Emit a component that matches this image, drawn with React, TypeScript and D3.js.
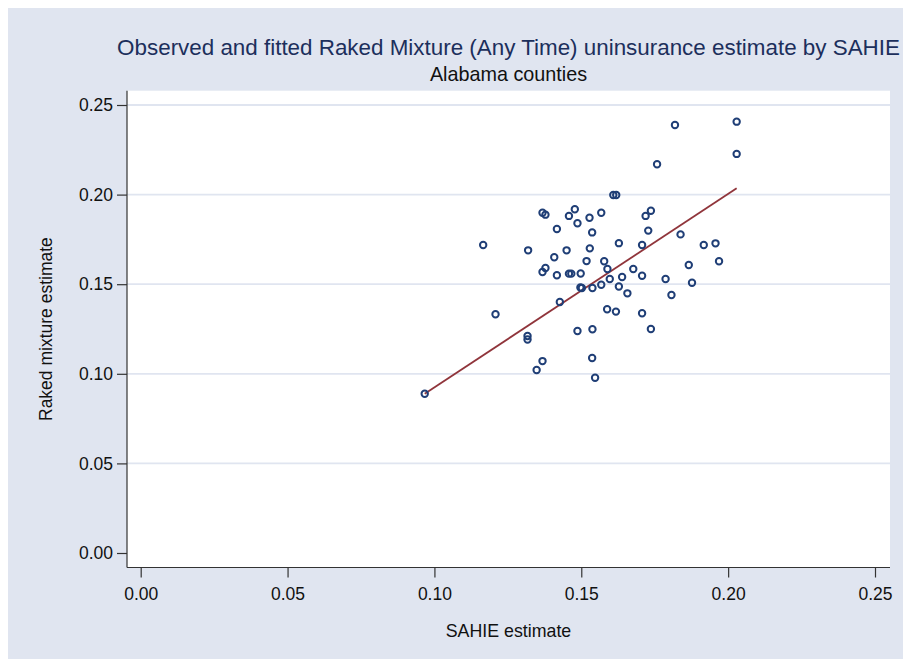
import React, { useEffect, useRef } from 'react';
import * as d3 from 'd3';

// SAHIE estimate per county (x)
const sahie = [
  0.0967, 0.1166, 0.1208, 0.1317, 0.1317, 0.1319, 0.1348, 0.1368, 0.1368, 0.1378,
  0.1368, 0.1378, 0.1408, 0.1417, 0.1417, 0.1427, 0.145, 0.1458, 0.1458, 0.1466,
  0.1478, 0.1487, 0.1487, 0.1498, 0.1497, 0.1502, 0.1518, 0.1528, 0.1529, 0.1537,
  0.1538, 0.1538, 0.1537, 0.1547, 0.1568, 0.1568, 0.1578, 0.1589, 0.1588, 0.1597,
  0.1609, 0.1619, 0.1618, 0.1628, 0.1628, 0.1639, 0.1657, 0.1677, 0.1707, 0.1707,
  0.1707, 0.1719, 0.1728, 0.1737, 0.1737, 0.1758, 0.1787, 0.1807, 0.1819, 0.1838,
  0.1866, 0.1877, 0.1917, 0.1957, 0.1969, 0.2029, 0.2029,
];

// Raked mixture estimate per county (y)
const raked = [
  0.0889, 0.1719, 0.1332, 0.1211, 0.1191, 0.1689, 0.1021, 0.1071, 0.1899, 0.1888,
  0.1568, 0.159, 0.165, 0.1808, 0.155, 0.1401, 0.1689, 0.1881, 0.1559, 0.1559,
  0.1918, 0.184, 0.1239, 0.156, 0.1482, 0.1479, 0.1629, 0.1871, 0.17, 0.1789,
  0.1479, 0.1249, 0.1088, 0.0978, 0.1899, 0.1497, 0.1628, 0.1585, 0.136, 0.1529,
  0.1998, 0.1998, 0.1347, 0.1729, 0.1487, 0.154, 0.1449, 0.1585, 0.1719, 0.1547,
  0.1338, 0.1881, 0.1799, 0.191, 0.125, 0.2169, 0.1529, 0.144, 0.2388, 0.1778,
  0.1607, 0.1508, 0.1719, 0.1728, 0.1628, 0.2407, 0.2227,
];

// fitted line at the ends of the x range
const fittedX = [0.0967, 0.2029];
const fittedY = [0.0889, 0.2035];

const xTicks = [0, 0.05, 0.1, 0.15, 0.2, 0.25];
const yTicks = [0, 0.05, 0.1, 0.15, 0.2, 0.25];

const W = 903;
const H = 661;

export default function App() {
  const svgRef = useRef<SVGSVGElement>(null);

  useEffect(() => {
    const svg = d3.select(svgRef.current);
    svg.selectAll('*').remove();

    const font = 'Arial, "Liberation Sans", Helvetica, sans-serif';
    const plot = { left: 127, top: 90.7, right: 890, bottom: 567.5 };

    const x = d3.scaleLinear().domain([0, 0.25]).range([140.7, 875]);
    const y = d3.scaleLinear().domain([0, 0.25]).range([553, 105]);

    // graph region
    svg.append('rect')
      .attr('x', 8).attr('y', 8)
      .attr('width', W - 8).attr('height', 651)
      .attr('fill', '#e0e5f0');

    svg.append('rect')
      .attr('x', plot.left).attr('y', plot.top)
      .attr('width', plot.right - plot.left)
      .attr('height', plot.bottom - plot.top)
      .attr('fill', '#ffffff');

    // gridlines
    svg.append('g')
      .selectAll('line')
      .data(yTicks.filter(d => d > 0))
      .join('line')
      .attr('x1', plot.left).attr('x2', plot.right)
      .attr('y1', d => y(d)).attr('y2', d => y(d))
      .attr('stroke', '#e0e5f0')
      .attr('stroke-width', 1.8);

    // y axis
    const yAxis = svg.append('g')
      .attr('transform', `translate(${plot.left},0)`)
      .call(d3.axisLeft(y).tickValues(yTicks).tickFormat(d3.format('.2f')).tickSize(10).tickPadding(4));
    yAxis.select('.domain').attr('d', `M0,${plot.top}V${plot.bottom}`);

    // x axis
    const xAxis = svg.append('g')
      .attr('transform', `translate(0,${plot.bottom})`)
      .call(d3.axisBottom(x).tickValues(xTicks).tickFormat(d3.format('.2f')).tickSize(10).tickPadding(10));
    xAxis.select('.domain').attr('d', `M${plot.left},0H${plot.right}`);

    svg.selectAll('.domain').attr('stroke', '#333').attr('stroke-width', 1.2);
    svg.selectAll('.tick line').attr('stroke', '#333').attr('stroke-width', 1.2);
    svg.selectAll('.tick text')
      .attr('font-family', font)
      .attr('font-size', 17.5)
      .attr('fill', '#111');

    // fitted line
    const line = d3.line<number>()
      .x((d, i) => x(fittedX[i]))
      .y(d => y(d));
    svg.append('path')
      .datum(fittedY)
      .attr('d', line)
      .attr('fill', 'none')
      .attr('stroke', '#90353b')
      .attr('stroke-width', 1.8);

    // observed points
    svg.append('g')
      .selectAll('circle')
      .data(sahie)
      .join('circle')
      .attr('cx', d => x(d))
      .attr('cy', (d, i) => y(raked[i]))
      .attr('r', 3.2)
      .attr('fill', 'none')
      .attr('stroke', '#1f3e76')
      .attr('stroke-width', 2);

    const cx = (plot.left + plot.right) / 2;

    svg.append('text')
      .attr('x', cx).attr('y', 55)
      .attr('text-anchor', 'middle')
      .attr('font-family', font)
      .attr('font-size', 22.4)
      .attr('fill', '#1c2f5c')
      .text('Observed and fitted Raked Mixture (Any Time) uninsurance estimate by SAHIE');

    svg.append('text')
      .attr('x', cx).attr('y', 81)
      .attr('text-anchor', 'middle')
      .attr('font-family', font)
      .attr('font-size', 19.8)
      .attr('fill', '#111')
      .text('Alabama counties');

    svg.append('text')
      .attr('x', cx).attr('y', 637)
      .attr('text-anchor', 'middle')
      .attr('font-family', font)
      .attr('font-size', 17.8)
      .attr('fill', '#111')
      .text('SAHIE estimate');

    svg.append('text')
      .attr('transform', `translate(52,${(plot.top + plot.bottom) / 2}) rotate(-90)`)
      .attr('text-anchor', 'middle')
      .attr('font-family', font)
      .attr('font-size', 17.5)
      .attr('fill', '#111')
      .text('Raked mixture estimate');
  }, []);

  return (
    <svg
      ref={svgRef}
      width={W}
      height={H}
      style={{ position: 'absolute', left: 0, top: 0, background: '#fff' }}
    />
  );
}
